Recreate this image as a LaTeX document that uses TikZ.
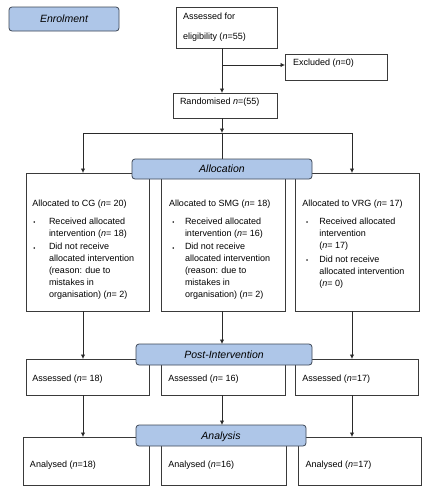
\documentclass[tikz,border=0pt]{standalone}
\usepackage{fontspec}
\setmainfont{Liberation Sans}
\usetikzlibrary{arrows.meta}
\definecolor{lblfill}{HTML}{AEC6E8}
\definecolor{lbldraw}{HTML}{3E4756}
\definecolor{boxdraw}{HTML}{3A3A3A}
\definecolor{linec}{HTML}{2A2A2A}
\begin{document}
\begin{tikzpicture}[x=1pt,y=-1pt,
  box/.style={draw=boxdraw,line width=0.8pt,fill=white,inner sep=0pt,outer sep=0pt},
  lbl/.style={draw=lbldraw,line width=0.8pt,fill=lblfill,rounded corners=3pt,inner sep=0pt,outer sep=0pt,
    font=\fontsize{10.5}{12}\selectfont\itshape,text height=7.6pt,text depth=0pt},
  txt/.style={inner sep=0pt,outer sep=0pt,anchor=base west,font=\fontsize{9}{12}\selectfont},
  mtxt/.style={inner sep=0pt,outer sep=0pt,anchor=north west,align=left,font=\fontsize{9}{12}\selectfont},
  bul/.style={inner sep=0pt,outer sep=0pt,anchor=base west,font=\fontsize{6}{7}\selectfont},
  arr/.style={draw=linec,line width=0.8pt,-{Latex[length=4.5pt,width=4.5pt]}},
  ln/.style={draw=linec,line width=0.8pt}]
\useasboundingbox (0,0) rectangle (434,491);
\fill[white] (0,0) rectangle (434,491);

% boxes
\node[box,minimum width=101pt,minimum height=41pt] (assess) at (226.5,27.5) {};
\node[box,minimum width=102pt,minimum height=26pt] (excl) at (336,67) {};
\node[box,minimum width=104pt,minimum height=25pt] (rand) at (225,105.5) {};
\node[box,minimum width=123pt,minimum height=138pt] (cg) at (87.5,242) {};
\node[box,minimum width=124pt,minimum height=138pt] (smg) at (223,242) {};
\node[box,minimum width=124pt,minimum height=138pt] (vrg) at (357,242) {};
\node[box,minimum width=123pt,minimum height=36pt] (acg) at (87.5,377) {};
\node[box,minimum width=124pt,minimum height=36pt] (asmg) at (223,377) {};
\node[box,minimum width=123pt,minimum height=36pt] (avrg) at (356.5,377) {};
\node[box,minimum width=126pt,minimum height=48pt] (ncg) at (86,461) {};
\node[box,minimum width=125pt,minimum height=48pt] (nsmg) at (223.5,461) {};
\node[box,minimum width=123pt,minimum height=48pt] (nvrg) at (359.5,461) {};

% texts
\node[mtxt] (assesst) at (183,12.6) {Assessed for\\[8.7pt]eligibility (\textit{n}=55)};
\node[txt] (exclt) at (293,65.7) {Excluded (\textit{n}=0)};
\node[txt] (randt) at (180,104.5) {Randomised \textit{n}=(55)};

\node[txt] (cgt) at (32.3,206.7) {Allocated to CG (\textit{n}= 20)};
\node[bul] (cgb1) at (33.3,224.3) {•};
\node[mtxt] (cgi1) at (49,217.6) {Received allocated\\intervention (\textit{n}= 18)};
\node[bul] (cgb2) at (33.3,250) {•};
\node[mtxt] (cgi2) at (49,243.3) {Did not receive\\allocated intervention\\(reason: due to\\mistakes in\\organisation) (\textit{n}= 2)};

\node[txt] (smgt) at (169,206.7) {Allocated to SMG (\textit{n}= 18)};
\node[bul] (smgb1) at (172.3,224.3) {•};
\node[mtxt] (smgi1) at (185,217.6) {Received allocated\\intervention (\textit{n}= 16)};
\node[bul] (smgb2) at (172.3,250) {•};
\node[mtxt] (smgi2) at (185,243.3) {Did not receive\\allocated intervention\\(reason: due to\\mistakes in\\organisation) (\textit{n}= 2)};

\node[txt] (vrgt) at (302.3,206.7) {Allocated to VRG (\textit{n}= 17)};
\node[bul] (vrgb1) at (306,224.3) {•};
\node[mtxt] (vrgi1) at (319.3,217.6) {Received allocated\\intervention\\(\textit{n}= 17)};
\node[bul] (vrgb2) at (306,262.5) {•};
\node[mtxt] (vrgi2) at (319.3,255.8) {Did not receive\\allocated intervention\\(\textit{n}= 0)};

\node[txt] (acgt) at (32.3,381.7) {Assessed (\textit{n}= 18)};
\node[txt] (asmgt) at (168.3,381.7) {Assessed (\textit{n}= 16)};
\node[txt] (avrgt) at (302.3,381.7) {Assessed (\textit{n}=17)};
\node[txt] (ncgt) at (30,467.7) {Analysed (\textit{n}=18)};
\node[txt] (nsmgt) at (168.3,467.7) {Analysed (\textit{n}=16)};
\node[txt] (nvrgt) at (305.7,467.7) {Analysed (\textit{n}=17)};

% connectors
\coordinate (mx) at (222,0);
\coordinate (br) at (222,65);
\coordinate (split) at (222,133);
\coordinate (sl) at (83,133);
\coordinate (sr) at (352,133);
\draw[arr] (assess.south -| mx) -- (rand.north -| mx);
\draw[arr] (br) -- (br -| excl.west);
\draw[arr] (rand.south -| mx) -- (split);
\draw[ln] (sl) -- (sr);
\draw[ln] (split) -- (222,160);
\draw[arr] (sl) -- (sl |- cg.north);
\draw[arr] (sr) -- (sr |- vrg.north);
\draw[arr] (cg.south -| sl) -- (acg.north -| sl);
\draw[arr] (smg.south -| mx) -- (222,344);
\draw[arr] (vrg.south -| sr) -- (avrg.north -| sr);
\draw[arr] (acg.south -| sl) -- (ncg.north -| sl);
\draw[arr] (asmg.south -| mx) -- (222,425);
\draw[arr] (avrg.south -| sr) -- (nvrg.north -| sr);

% stage labels
\node[lbl,minimum width=110pt,minimum height=24pt] (enrol) at (64,19) {Enrolment};
\node[lbl,minimum width=180pt,minimum height=20pt] (alloc) at (222,169) {Allocation};
\node[lbl,minimum width=176pt,minimum height=21pt] (post) at (224,354.5) {Post-Intervention};
\node[lbl,minimum width=170pt,minimum height=21pt] (anal) at (221,435.5) {Analysis};
\end{tikzpicture}
\end{document}
